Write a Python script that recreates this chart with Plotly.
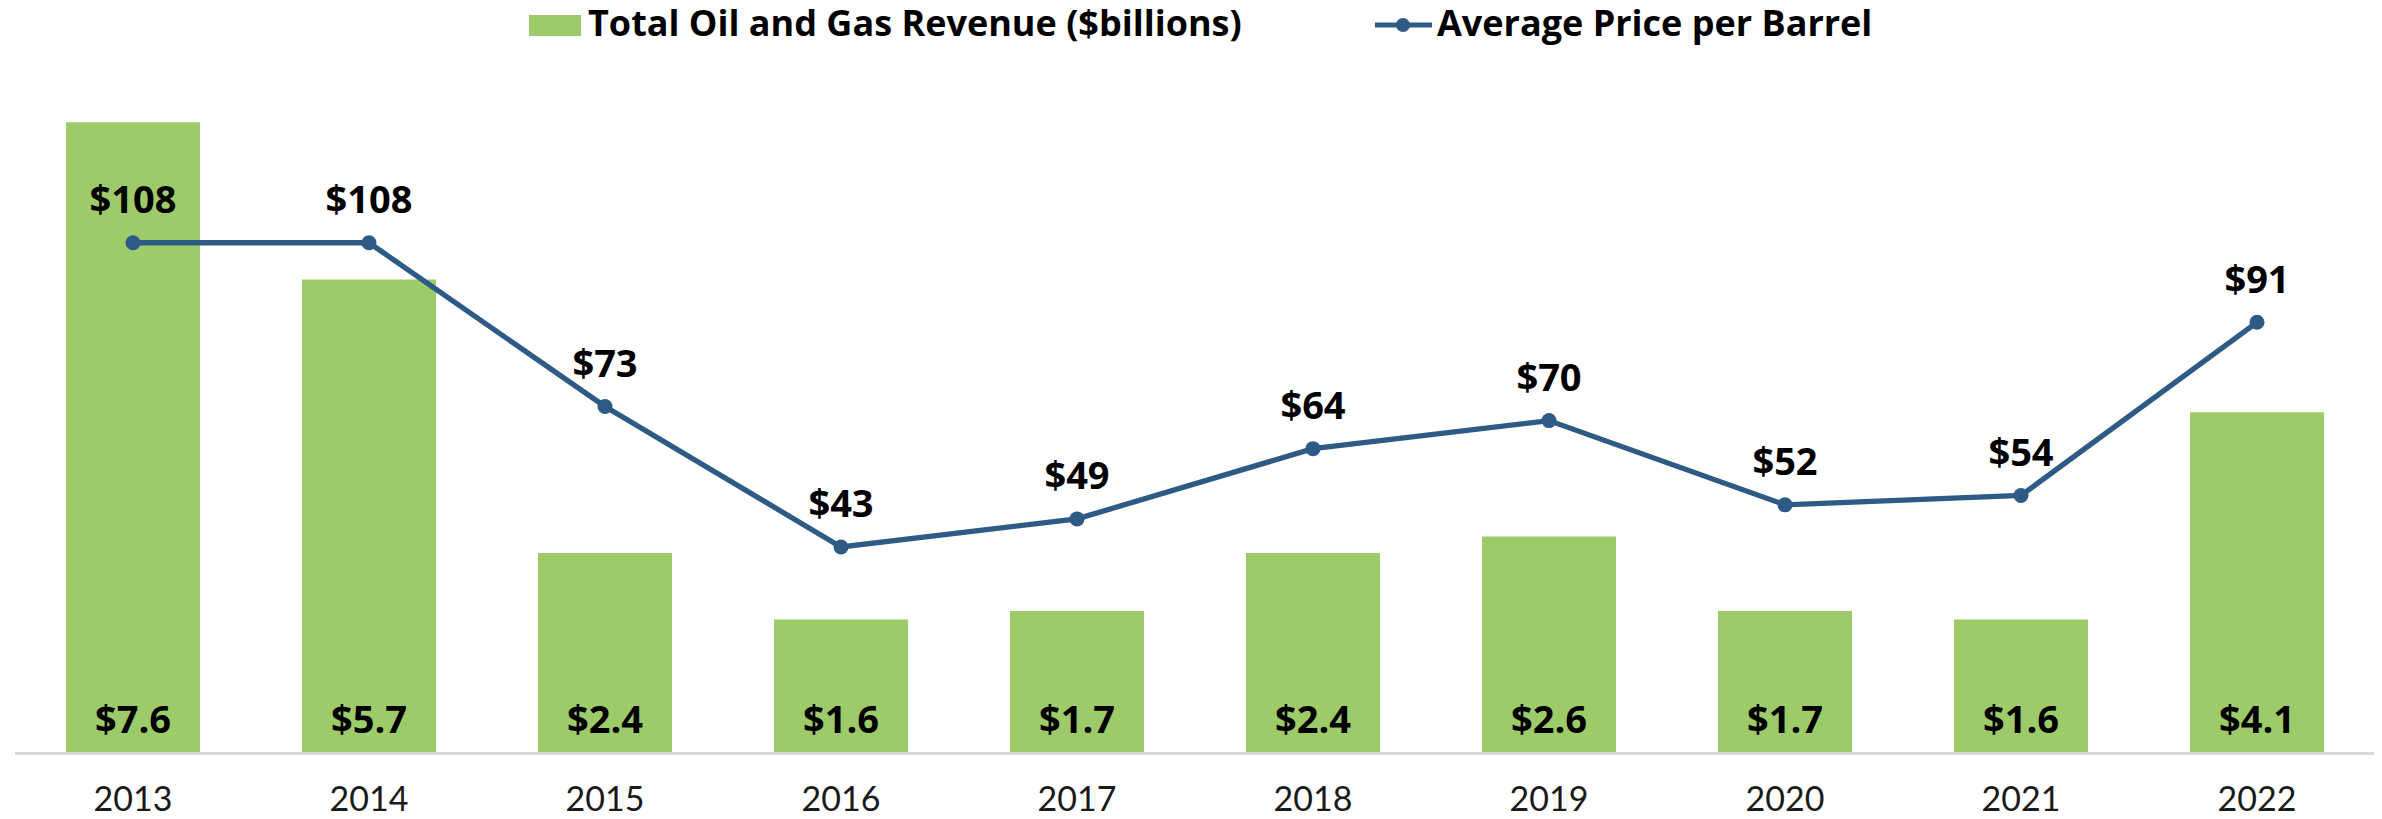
import plotly.graph_objects as go

years = ["2013", "2014", "2015", "2016", "2017", "2018", "2019", "2020", "2021", "2022"]
revenue = [7.6, 5.7, 2.4, 1.6, 1.7, 2.4, 2.6, 1.7, 1.6, 4.1]
price = [108, 108, 73, 43, 49, 64, 70, 52, 54, 91]
bar_name = "Total Oil and Gas Revenue ($billions)"
line_name = "Average Price per Barrel"

GREEN = "#9DCB6A"
BLUE = "#2E5A86"
OFF = 8  # default page body margin
W, H = 2382 - OFF, 819 - OFF
ML, MR, MT, MB = 15 - OFF, 7, 89 - OFF, 67
PW = W - ML - MR
PH = H - MT - MB

Y1 = [0, 8]
Y2 = [-0.81, 140.85]
PRICE_LIFT_PX = 39   # price labels sit this far above their points
BAR_LIFT_PX = 29     # revenue labels sit this far above the baseline
lift2 = PRICE_LIFT_PX * (Y2[1] - Y2[0]) / PH
lift1 = BAR_LIFT_PX * (Y1[1] - Y1[0]) / PH
Y3 = [Y2[0] - lift2, Y2[1] - lift2]
Y4 = [Y1[0] - lift1, Y1[1] - lift1]


def px_x(p):  # page pixel -> paper
    return (p - OFF - ML) / PW


def px_y(p):
    return (H - MB - (p - OFF)) / PH


label_font = dict(family="Open Sans, Lato, sans-serif", size=38, color="#000000", weight="bold")

fig = go.Figure()
fig.add_trace(go.Bar(x=years, y=revenue, name=bar_name, marker=dict(color=GREEN, line=dict(width=0)),
                     showlegend=False))
fig.add_trace(go.Scatter(x=years, y=price, name=line_name, yaxis="y2", mode="lines+markers",
                         line=dict(color=BLUE, width=5.3), marker=dict(color=BLUE, size=15),
                         showlegend=False))
fig.add_trace(go.Scatter(x=years, y=price, yaxis="y3", mode="text", text=[f"${p}" for p in price],
                         textposition="middle center", textfont=label_font, showlegend=False,
                         hoverinfo="skip", cliponaxis=False))
fig.add_trace(go.Scatter(x=years, y=[0 for _ in revenue], yaxis="y4", mode="text",
                         text=[f"${v:.1f}" for v in revenue],
                         textposition="middle center", textfont=label_font, showlegend=False,
                         hoverinfo="skip", cliponaxis=False))

annotations = []
legend_font = dict(family="Open Sans, Lato, sans-serif", size=36, color="#000000", weight="bold")
annotations.append(dict(x=px_x(586), y=px_y(23), xref="paper", yref="paper", text=bar_name,
                        showarrow=False, xanchor="left", yanchor="middle", font=legend_font))
annotations.append(dict(x=px_x(1435), y=px_y(23), xref="paper", yref="paper", text=line_name,
                        showarrow=False, xanchor="left", yanchor="middle", font=legend_font))

shapes = [
    dict(type="rect", xref="paper", yref="paper", x0=px_x(529), x1=px_x(581), y0=px_y(36), y1=px_y(15),
         fillcolor=GREEN, line=dict(width=0)),
    dict(type="line", xref="paper", yref="paper", x0=px_x(1375), x1=px_x(1432), y0=px_y(25), y1=px_y(25),
         line=dict(color=BLUE, width=5)),
    dict(type="circle", xref="paper", yref="paper", x0=px_x(1396), x1=px_x(1410), y0=px_y(32), y1=px_y(18),
         fillcolor=BLUE, line=dict(width=0)),
]

hidden = dict(showgrid=False, zeroline=False, showline=False, showticklabels=False, ticks="")

fig.update_layout(
    width=W, height=H,
    margin=dict(l=ML, r=MR, t=MT, b=MB),
    paper_bgcolor="white", plot_bgcolor="white",
    bargap=0.432,
    showlegend=False,
    annotations=annotations,
    shapes=shapes,
    xaxis=dict(type="category", range=[-0.5, 9.5], showgrid=False, zeroline=False,
               showline=True, linecolor="#D9D9D9", linewidth=2.5,
               ticks="", tickfont=dict(family="Lato, sans-serif", size=34, color="#1a1a1a"),
               ticklabelstandoff=15, automargin=False),
    yaxis=dict(range=Y1, **hidden),
    yaxis2=dict(range=Y2, overlaying="y", **hidden),
    yaxis3=dict(range=Y3, overlaying="y", **hidden),
    yaxis4=dict(range=Y4, overlaying="y", **hidden),
)

fig.write_html("out.html")
